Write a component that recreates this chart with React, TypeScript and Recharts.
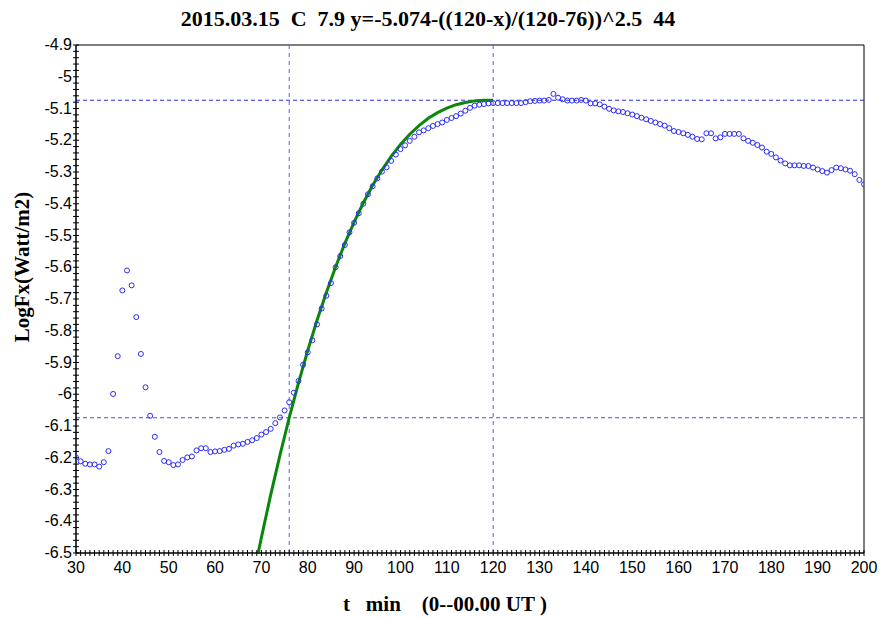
import React from 'react';
import { ComposedChart, Scatter, Line, XAxis, YAxis, ReferenceLine, ReferenceArea } from 'recharts';

const firstMinute = 30;
const logFlux = [
  -6.199, -6.211, -6.219, -6.221, -6.221, -6.228, -6.214, -6.179, -5.999, -5.880,
  -5.673, -5.610, -5.657, -5.757, -5.873, -5.978, -6.068, -6.134, -6.182, -6.210,
  -6.214, -6.223, -6.221, -6.207, -6.199, -6.196, -6.177, -6.170, -6.170, -6.182,
  -6.180, -6.179, -6.175, -6.172, -6.162, -6.158, -6.156, -6.150, -6.145, -6.138,
  -6.127, -6.119, -6.109, -6.091, -6.073, -6.051, -6.025, -5.995, -5.958, -5.907,
  -5.868, -5.830, -5.780, -5.730, -5.690, -5.650, -5.600, -5.565, -5.530, -5.490,
  -5.460, -5.430, -5.400, -5.370, -5.345, -5.320, -5.299, -5.285, -5.265, -5.245,
  -5.228, -5.216, -5.202, -5.189, -5.175, -5.169, -5.162, -5.155, -5.149, -5.144,
  -5.136, -5.130, -5.124, -5.116, -5.107, -5.098, -5.091, -5.088, -5.086, -5.084,
  -5.083, -5.083, -5.083, -5.083, -5.083, -5.083, -5.083, -5.080, -5.077, -5.076,
  -5.075, -5.075, -5.073, -5.054, -5.066, -5.071, -5.075, -5.075, -5.075, -5.073,
  -5.075, -5.084, -5.084, -5.087, -5.094, -5.101, -5.106, -5.109, -5.111, -5.115,
  -5.119, -5.124, -5.129, -5.134, -5.139, -5.144, -5.149, -5.154, -5.162, -5.171,
  -5.174, -5.178, -5.183, -5.189, -5.196, -5.197, -5.178, -5.178, -5.194, -5.191,
  -5.180, -5.180, -5.180, -5.180, -5.194, -5.202, -5.208, -5.215, -5.223, -5.236,
  -5.243, -5.254, -5.264, -5.273, -5.279, -5.279, -5.279, -5.281, -5.281, -5.286,
  -5.292, -5.297, -5.302, -5.294, -5.286, -5.288, -5.292, -5.296, -5.307, -5.325,
  -5.339,
];

const fitMinutes = [69.3, 70, 72, 74, 76, 78, 80, 82, 84, 86, 88, 90, 92, 94, 96, 98, 100, 102, 104, 106, 108, 110, 112, 114, 116, 118, 120];
const fitValues = [-6.5, -6.451, -6.317, -6.192, -6.074, -5.964, -5.862, -5.767, -5.680, -5.599, -5.525, -5.458, -5.397, -5.342, -5.294, -5.251, -5.213, -5.181, -5.154, -5.131, -5.113, -5.099, -5.088, -5.081, -5.076, -5.074, -5.074];

const xTickLabels = [30, 40, 50, 60, 70, 80, 90, 100, 110, 120, 130, 140, 150, 160, 170, 180, 190, 200];
const yTickLabels = ['-4.9', '-5', '-5.1', '-5.2', '-5.3', '-5.4', '-5.5', '-5.6', '-5.7', '-5.8', '-5.9', '-6', '-6.1', '-6.2', '-6.3', '-6.4', '-6.5'];

const startTime = 76;
const peakTime = 120;
const peakLevel = -5.074;
const startLevel = -6.074;

const titleText = '2015.03.15  C  7.9 y=-5.074-((120-x)/(120-76))^2.5  44';
const xTitle = 't   min    (0--00.00 UT )';
const yTitle = 'LogFx(Watt/m2)';

const scatterData = logFlux.map((v, i) => ({ x: firstMinute + i, y: v }));
const fitData = fitMinutes.map((m, i) => ({ x: m, y: fitValues[i] }));

const xMinorTicks: number[] = [];
for (let m = 30; m <= 200; m++) xMinorTicks.push(m);
const yMinorTicks: number[] = [];
for (let k = 0; k <= 80; k++) yMinorTicks.push((-650 + 2 * k) / 100);

const tickFont = '"Liberation Sans", Arial, sans-serif';
const serif = '"Liberation Serif", "Times New Roman", serif';

const XTick = (props: any) => {
  const { x, y, payload } = props;
  const v = payload.value;
  const major = xTickLabels.indexOf(Math.round(v)) >= 0;
  return (
    <g>
      <line x1={x} x2={x} y1={y - 3} y2={y + 3} stroke="#000" strokeWidth={1} />
      {major && (
        <text x={x} y={y + 20} textAnchor="middle" fontFamily={tickFont} fontSize={16} fill="#000">
          {Math.round(v)}
        </text>
      )}
    </g>
  );
};

const YTick = (props: any) => {
  const { x, y, payload } = props;
  const h = Math.round(payload.value * 100);
  const major = h % 10 === 0;
  const idx = Math.round((-490 - h) / 10);
  return (
    <g>
      <line x1={x - 3} x2={x + 3} y1={y} y2={y} stroke="#000" strokeWidth={1} />
      {major && (
        <text x={x - 4} y={y + 5} textAnchor="end" fontFamily={tickFont} fontSize={16} fill="#000">
          {yTickLabels[idx]}
        </text>
      )}
    </g>
  );
};

const Ring = (props: any) => {
  const { cx, cy } = props;
  return <circle cx={cx} cy={cy} r={2.5} fill="none" stroke="#2b2bff" strokeWidth={1} />;
};

export default function App() {
  return (
    <div style={{ position: 'absolute', left: 0, top: 0, width: 880, height: 617, background: '#fff' }}>
      <ComposedChart width={880} height={617} margin={{ top: 45, right: 16, bottom: 0, left: 0 }}>
        <XAxis
          type="number"
          dataKey="x"
          domain={[30, 200]}
          ticks={xMinorTicks}
          interval={0}
          tickLine={false}
          tickSize={0}
          tickMargin={0}
          tick={<XTick />}
          height={64}
          axisLine={{ stroke: '#000' }}
          allowDataOverflow
        />
        <YAxis
          type="number"
          dataKey="y"
          domain={[-6.5, -4.9]}
          ticks={yMinorTicks}
          interval={0}
          tickLine={false}
          tickSize={0}
          tickMargin={0}
          tick={<YTick />}
          width={76}
          axisLine={{ stroke: '#000' }}
          allowDataOverflow
        />
        <ReferenceArea x1={30} x2={200} y1={-6.5} y2={-4.9} fill="none" stroke="#000" strokeWidth={1} ifOverflow="visible" />
        <ReferenceLine x={startTime} stroke="#5a5aff" strokeDasharray="4 4" />
        <ReferenceLine x={peakTime} stroke="#5a5aff" strokeDasharray="4 4" />
        <ReferenceLine y={peakLevel} stroke="#2a2ae0" strokeDasharray="4 3" />
        <ReferenceLine y={startLevel} stroke="#4a4aff" strokeDasharray="4 3" />
        <Scatter data={scatterData} dataKey="y" shape={<Ring />} isAnimationActive={false} />
        <Line data={fitData} dataKey="y" type="linear" stroke="#0a870a" strokeWidth={3} dot={false} activeDot={false} isAnimationActive={false} />
      </ComposedChart>
      <div style={{ position: 'absolute', left: 0, width: 856, top: 7, textAlign: 'center', fontFamily: serif, fontWeight: 'bold', fontSize: 22, whiteSpace: 'pre', lineHeight: '24px' }}>
        {titleText}
      </div>
      <div style={{ position: 'absolute', left: 0, width: 890, top: 592, textAlign: 'center', fontFamily: serif, fontWeight: 'bold', fontSize: 21, whiteSpace: 'pre', lineHeight: '24px' }}>
        {xTitle}
      </div>
      <div style={{ position: 'absolute', left: 22, top: 267, width: 0, height: 0 }}>
        <div style={{ position: 'absolute', left: -100, top: -12, width: 200, textAlign: 'center', transform: 'rotate(-90deg)', fontFamily: serif, fontWeight: 'bold', fontSize: 21, whiteSpace: 'pre', lineHeight: '24px' }}>
          {yTitle}
        </div>
      </div>
    </div>
  );
}
